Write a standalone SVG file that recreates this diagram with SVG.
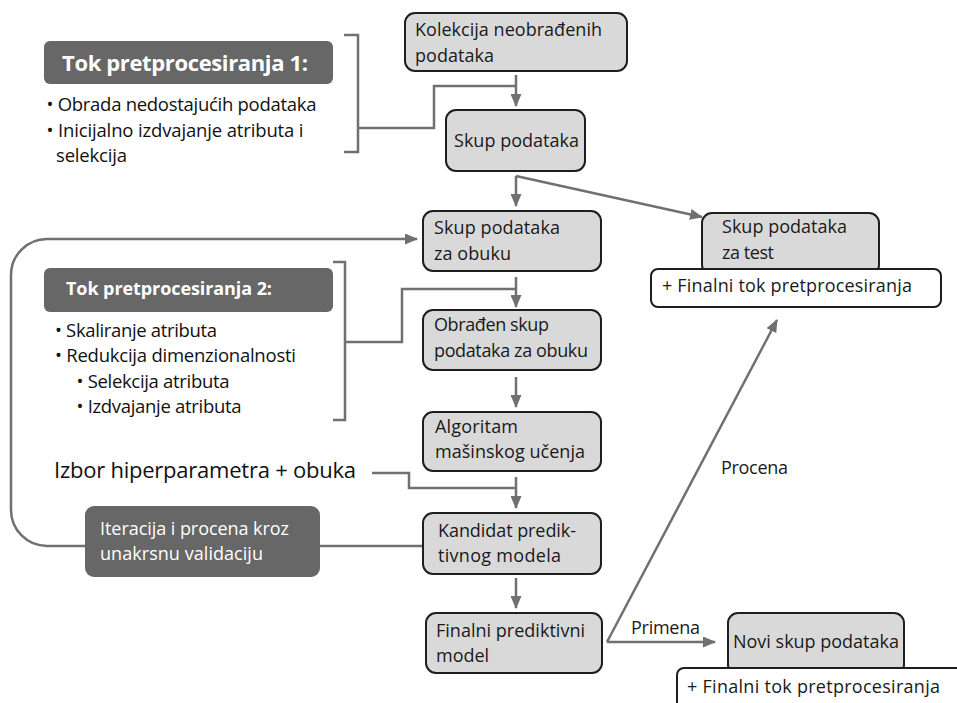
<svg xmlns="http://www.w3.org/2000/svg" width="957" height="703" viewBox="0 0 957 703">
<style>
text{font-family:"Open Sans","Noto Sans","Liberation Sans",sans-serif;}
.node{fill:#d9d9d9;stroke:#1e1e1e;stroke-width:2;}
.white{fill:#ffffff;stroke:#1e1e1e;stroke-width:2;}
.dark{fill:#676767;stroke:none;}
.t{font-size:18px;fill:#1a1a1a;}
.b{font-size:18.5px;fill:#111;}
.hw{fill:#ffffff;font-weight:bold;}
.iw{font-size:18px;fill:#ffffff;}
.conn{fill:none;stroke:#707070;stroke-width:2.5;}
.arr{fill:none;stroke:#707070;stroke-width:2.5;marker-end:url(#ah);}
.br{fill:none;stroke:#707070;stroke-width:2.5;}
</style>
<defs>
<marker id="ah" markerUnits="userSpaceOnUse" markerWidth="13" markerHeight="11" refX="12" refY="5.5" orient="auto">
<path d="M0,0 L13,5.5 L0,11 z" fill="#707070"/>
</marker>
</defs>
<rect width="957" height="703" fill="#ffffff"/>

<g id="connectors">
<path class="br" d="M344,35 H358 V152 H344"/>
<path class="conn" d="M358,128 H434 V86 H515"/>
<path class="arr" d="M516,75 V106"/>
<path class="arr" d="M516,176 V206"/>
<path class="arr" d="M516,176 L702,217"/>
<path class="arr" d="M516,277 V307"/>
<path class="br" d="M333,262 H345 V420 H333"/>
<path class="conn" d="M345,342 H402 V289 H515"/>
<path class="arr" d="M516,377 V407"/>
<path class="conn" d="M372,473 H409 V488 H515"/>
<path class="arr" d="M516,477 V508"/>
<path class="conn" d="M423,546 H320"/>
<path class="arr" d="M516,578 V608"/>
<path class="arr" d="M85,546 H47 A36,36 0 0 1 11,510 V275 A36,36 0 0 1 47,239 H417"/>
<path class="arr" d="M607,642 H715"/>
<path class="arr" d="M607,642 L777,320"/>
</g>

<g id="pre1">
<rect class="dark" x="44" y="41" width="289" height="43" rx="6"/>
<text class="hw" x="62" y="71" font-size="22" textLength="246">Tok pretprocesiranja 1:</text>
<text class="b" x="46.5" y="111" textLength="270">• Obrada nedostajućih podataka</text>
<text class="b" x="46.5" y="137" textLength="257">• Inicijalno izdvajanje atributa i</text>
<text class="b" x="56" y="162" textLength="71">selekcija</text>
</g>

<g id="n_kolekcija">
<rect class="node" x="405" y="13" width="222" height="58" rx="10"/>
<text class="t" x="415" y="36" textLength="187">Kolekcija neobrađenih</text>
<text class="t" x="415" y="62" textLength="79">podataka</text>
</g>

<g id="n_skup">
<rect class="node" x="446" y="110" width="139" height="61" rx="10"/>
<text class="t" x="454" y="147" textLength="125">Skup podataka</text>
</g>

<g id="n_obuka">
<rect class="node" x="423" y="211" width="178" height="60" rx="10"/>
<text class="t" x="434" y="234" textLength="126">Skup podataka</text>
<text class="t" x="434" y="260" textLength="77">za obuku</text>
</g>

<g id="n_test">
<rect class="node" x="702" y="213" width="177" height="62" rx="10"/>
<text class="t" x="722" y="233" textLength="125">Skup podataka</text>
<text class="t" x="722" y="259" textLength="52">za test</text>
<rect class="white" x="651" y="269" width="290" height="38" rx="7"/>
<text class="t" x="662" y="292" textLength="250">+ Finalni tok pretprocesiranja</text>
</g>

<g id="pre2">
<rect class="dark" x="44" y="268" width="289" height="44" rx="6"/>
<text class="hw" x="66" y="295" font-size="18" textLength="206">Tok pretprocesiranja 2:</text>
<text class="b" x="55" y="337" textLength="162">• Skaliranje atributa</text>
<text class="b" x="55" y="362" textLength="241">• Redukcija dimenzionalnosti</text>
<text class="b" x="76.5" y="388" textLength="153">• Selekcija atributa</text>
<text class="b" x="76.5" y="413" textLength="165">• Izdvajanje atributa</text>
</g>

<g id="n_obradjen">
<rect class="node" x="423" y="310" width="178" height="60" rx="10"/>
<text class="t" x="434" y="331" textLength="115">Obrađen skup</text>
<text class="t" x="434" y="357" textLength="154">podataka za obuku</text>
</g>

<g id="n_algoritam">
<rect class="node" x="423" y="412" width="178" height="59" rx="10"/>
<text class="t" x="435" y="433" textLength="83">Algoritam</text>
<text class="t" x="435" y="458" textLength="150">mašinskog učenja</text>
</g>

<g id="lbl_izbor">
<text x="54" y="478" font-size="22" fill="#111" textLength="302">Izbor hiperparametra + obuka</text>
</g>

<g id="n_iteracija">
<rect class="dark" x="85" y="506" width="235" height="71" rx="9"/>
<text class="iw" x="100" y="535" textLength="189">Iteracija i procena kroz</text>
<text class="iw" x="100" y="560" textLength="163">unakrsnu validaciju</text>
</g>

<g id="n_kandidat">
<rect class="node" x="423" y="513" width="178" height="61" rx="10"/>
<text class="t" x="438" y="537" textLength="138">Kandidat predik-</text>
<text class="t" x="438" y="562" textLength="123">tivnog modela</text>
</g>

<g id="n_finalni">
<rect class="node" x="426" y="613" width="176" height="60" rx="10"/>
<text class="t" x="436" y="637" textLength="149">Finalni prediktivni</text>
<text class="t" x="436" y="662" textLength="53">model</text>
</g>

<g id="lbl_procena">
<text class="t" x="721" y="474" textLength="67">Procena</text>
</g>
<g id="lbl_primena">
<text class="t" x="631" y="634" textLength="69">Primena</text>
</g>

<g id="n_novi">
<rect class="node" x="728" y="613" width="176" height="62" rx="10"/>
<text class="t" x="733" y="648" textLength="166">Novi skup podataka</text>
<rect class="white" x="677" y="668" width="300" height="50" rx="7"/>
<text class="t" x="687" y="693" textLength="253">+ Finalni tok pretprocesiranja</text>
</g>
</svg>
